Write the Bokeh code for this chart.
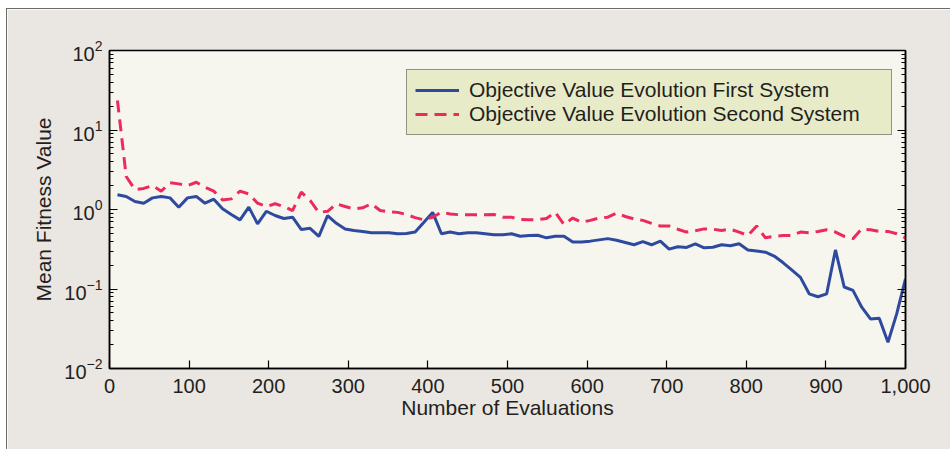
from bokeh.plotting import figure
from bokeh.models import (FixedTicker, NumeralTickFormatter, CustomJSTickFormatter,
                          LogAxis, LogTickFormatter, Legend, LegendItem)
from bokeh.embed import file_html
from bokeh.resources import INLINE

# ---------------- data ----------------
evaluations = [10, 21, 32, 43, 54, 65, 76, 87, 98, 109,
               120, 131, 142, 153, 164, 175, 186, 197, 208, 219,
               230, 241, 252, 263, 274, 285, 296, 307, 318, 329,
               340, 351, 362, 373, 384, 395, 406, 417, 428, 439,
               450, 461, 472, 483, 494, 505, 516, 527, 538, 549,
               560, 571, 582, 593, 604, 615, 626, 637, 648, 659,
               670, 681, 692, 703, 714, 725, 736, 747, 758, 769,
               780, 791, 802, 813, 824, 835, 846, 857, 868, 879,
               890, 901, 912, 923, 934, 945, 956, 967, 978, 989, 1000]

first_system = [1.53, 1.46, 1.26, 1.20, 1.40, 1.46, 1.40, 1.07, 1.40, 1.46,
                1.20, 1.35, 1.02, 0.865, 0.74, 1.07, 0.66, 0.95, 0.84, 0.77,
                0.80, 0.56, 0.58, 0.46, 0.84, 0.67, 0.57, 0.545, 0.53, 0.51,
                0.51, 0.51, 0.495, 0.50, 0.52, 0.69, 0.92, 0.495, 0.52, 0.495,
                0.51, 0.51, 0.495, 0.48, 0.48, 0.495, 0.46, 0.47, 0.475, 0.44,
                0.46, 0.46, 0.39, 0.39, 0.40, 0.415, 0.43, 0.41, 0.385, 0.36,
                0.395, 0.36, 0.40, 0.317, 0.34, 0.333, 0.37, 0.33, 0.335, 0.36,
                0.35, 0.37, 0.31, 0.30, 0.29, 0.26, 0.215, 0.174, 0.14, 0.087,
                0.080, 0.087, 0.31, 0.106, 0.096, 0.059, 0.042, 0.043, 0.0214, 0.049, 0.134]

second_system = [23.5, 2.6, 1.78, 1.84, 2.0, 1.70, 2.17, 2.1, 2.0, 2.2,
                 1.9, 1.70, 1.32, 1.36, 1.70, 1.57, 1.2, 1.09, 1.18, 1.09,
                 0.97, 1.65, 1.30, 0.92, 0.95, 1.18, 1.09, 1.02, 1.05, 1.18,
                 0.97, 0.94, 0.92, 0.865, 0.79, 0.74, 0.80, 0.925, 0.88, 0.86,
                 0.86, 0.86, 0.86, 0.865, 0.80, 0.80, 0.75, 0.745, 0.745, 0.77,
                 0.925, 0.647, 0.78, 0.69, 0.73, 0.78, 0.80, 0.90, 0.816, 0.76,
                 0.73, 0.67, 0.62, 0.62, 0.565, 0.52, 0.54, 0.57, 0.565, 0.545,
                 0.565, 0.52, 0.47, 0.62, 0.44, 0.46, 0.47, 0.47, 0.52, 0.51,
                 0.53, 0.555, 0.52, 0.46, 0.43, 0.57, 0.555, 0.53, 0.53, 0.495, 0.44]

x_ticks = [0, 100, 200, 300, 400, 500, 600, 700, 800, 900, 1000]
y_decades = [0.01, 0.1, 1, 10, 100]

series_names = ["Objective Value Evolution First System",
                "Objective Value Evolution Second System"]

# ---------------- styles ----------------
FONT = "Liberation Sans"
TXT = "#231F20"
BLUE = "#2E4A9E"
RED = "#EC2A5B"

y_minor = [m * d for d in y_decades[:-1] for m in range(2, 10)]

p = figure(width=944, height=441, y_axis_type="log",
           x_range=(0, 1000), y_range=(0.01, 100),
           output_backend="svg", toolbar_location=None,
           min_border_left=102, min_border_right=46,
           min_border_top=41, min_border_bottom=82)

p.background_fill_color = "#F6F5EE"
p.border_fill_color = "#EAE6E1"
p.outline_line_color = "black"
p.outline_line_width = 1.5
p.grid.visible = False
p.styles = {"margin-left": "6px", "margin-top": "8px",
            "border-left": "1px solid #6b6b6b", "border-top": "1px solid #6b6b6b"}

l1 = p.line(evaluations, first_system, line_color=BLUE, line_width=3)
l2 = p.line(evaluations, second_system, line_color=RED, line_width=3,
            line_dash="12 7")

# x axis
xa = p.xaxis[0]
xa.ticker = FixedTicker(ticks=x_ticks, minor_ticks=[])
xa.formatter = NumeralTickFormatter(format="0,0")
xa.axis_label = "Number of Evaluations"

# y axis
ya = p.yaxis[0]
ya.ticker = FixedTicker(ticks=y_decades, minor_ticks=y_minor)
ya.formatter = LogTickFormatter()
ya.axis_label = "Mean Fitness Value"

# right axis (ticks only)
ra = LogAxis(ticker=FixedTicker(ticks=y_decades, minor_ticks=y_minor),
             formatter=CustomJSTickFormatter(code="return ''"))
p.add_layout(ra, "right")

for ax in [xa, ya, ra]:
    ax.axis_line_color = "black"
    ax.axis_line_width = 1.5
    ax.major_tick_line_color = "black"
    ax.major_tick_line_width = 1.2
    ax.minor_tick_line_color = "black"
    ax.minor_tick_line_width = 1
    ax.major_tick_in = 8
    ax.major_tick_out = 0
    ax.minor_tick_in = 4
    ax.minor_tick_out = 0
    ax.major_label_text_font = FONT
    ax.major_label_text_font_size = "20px"
    ax.major_label_text_color = TXT
    ax.axis_label_text_font = FONT
    ax.axis_label_text_font_size = "21px"
    ax.axis_label_text_font_style = "normal"
    ax.axis_label_text_color = TXT

xa.minor_tick_line_color = None
xa.major_label_standoff = 10
xa.axis_label_standoff = 0
ya.major_label_standoff = 7
ya.axis_label_standoff = 6

legend = Legend(items=[LegendItem(label=series_names[0], renderers=[l1]),
                       LegendItem(label=series_names[1], renderers=[l2])],
                location=(297, 233))
legend.margin = 0
legend.padding = 8
legend.spacing = 0
legend.glyph_width = 44
legend.glyph_height = 22
legend.label_height = 22
legend.label_width = 414
legend.label_standoff = 10
legend.label_text_font = FONT
legend.label_text_font_size = "21px"
legend.label_text_color = TXT
legend.background_fill_color = "#E8EBC7"
legend.background_fill_alpha = 1
legend.border_line_color = "#3a3a3a"
legend.border_line_width = 1
p.add_layout(legend, "center")

with open("out.html", "w") as f:
    f.write(file_html(p, INLINE))
